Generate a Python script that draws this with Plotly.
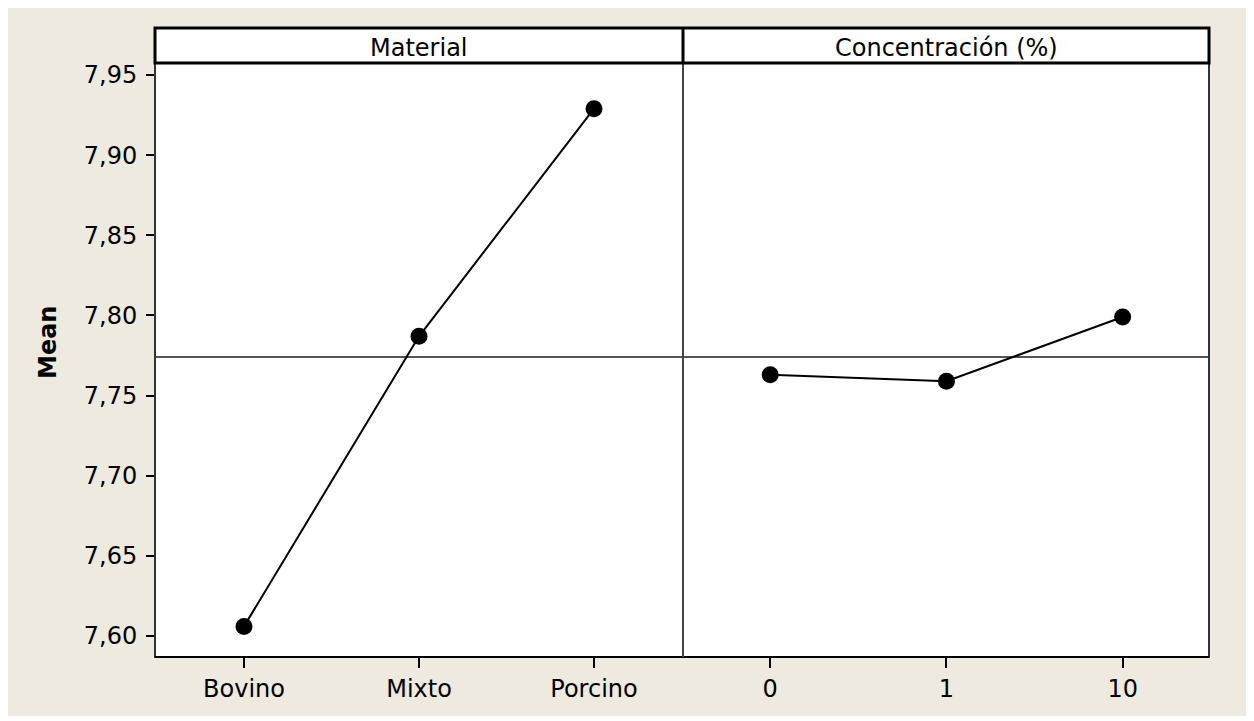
import plotly.graph_objects as go

material_levels = ["Bovino", "Mixto", "Porcino"]
material_means = [7.606, 7.787, 7.929]
conc_levels = ["0", "1", "10"]
conc_means = [7.763, 7.759, 7.799]
grand_mean = 7.774
panel_titles = ["Material", "Concentración (%)"]
y_ticks = [7.60, 7.65, 7.70, 7.75, 7.80, 7.85, 7.90, 7.95]

# page body has an 8px default margin; compensate
OFF = 8
W, H = 1254 - OFF, 721 - OFF
L, R, T, B = 155 - OFF, 45, 28 - OFF, 64
pw, ph = W - L - R, H - T - B
split = 528 / pw
ytop = (657 - 63) / ph

BG = "#EEEAE0"
FONT = "DejaVu Sans, Verdana, sans-serif"
FS = 24

fig = go.Figure()
fig.add_trace(go.Scatter(x=material_levels, y=material_means, mode="lines+markers",
                         line=dict(color="black", width=2),
                         marker=dict(color="black", size=17),
                         xaxis="x", yaxis="y", showlegend=False))
fig.add_trace(go.Scatter(x=conc_levels, y=conc_means, mode="lines+markers",
                         line=dict(color="black", width=2),
                         marker=dict(color="black", size=17),
                         xaxis="x2", yaxis="y2", showlegend=False))

axis_common = dict(showgrid=False, zeroline=False, showline=False,
                   ticks="outside", ticklen=10, tickwidth=2, tickcolor="black",
                   tickfont=dict(family=FONT, size=FS, color="black"))

fig.update_layout(
    width=W, height=H,
    margin=dict(l=L, r=R, t=T, b=B),
    paper_bgcolor=BG, plot_bgcolor="white",
    separators=",.",
    xaxis=dict(domain=[0, split], type="category", range=[-0.5086, 2.5086],
               anchor="y", ticklabelstandoff=0, **axis_common),
    xaxis2=dict(domain=[split, 1], type="category", range=[-0.495, 2.49],
                anchor="y2", ticklabelstandoff=0, **axis_common),
    yaxis=dict(domain=[0, ytop], range=[7.5869, 7.9575], tickvals=y_ticks,
               tickformat=".2f", anchor="x", ticklabelstandoff=4,
               **{**axis_common, "ticklen": 8}),
    yaxis2=dict(domain=[0, ytop], matches="y", anchor="x2", showticklabels=False,
                ticks="", showgrid=False, zeroline=False),
    showlegend=False,
)

shapes = []
shapes.append(dict(type="line", xref="paper", yref="y", x0=0, x1=1,
                   y0=grand_mean, y1=grand_mean,
                   line=dict(color="#555555", width=2), layer="below"))
shapes.append(dict(type="rect", xref="paper", yref="paper", x0=0, x1=1, y0=0, y1=ytop,
                   line=dict(color="#333333", width=2)))
shapes.append(dict(type="line", xref="paper", yref="paper", x0=0, x1=1, y0=0, y1=0,
                   line=dict(color="black", width=2)))
shapes.append(dict(type="line", xref="paper", yref="paper", x0=split, x1=split, y0=0, y1=ytop,
                   line=dict(color="#444444", width=2)))
shapes.append(dict(type="rect", xref="paper", yref="paper", x0=0, x1=1, y0=ytop, y1=1,
                   fillcolor="white", line=dict(color="black", width=3)))
shapes.append(dict(type="line", xref="paper", yref="paper", x0=split, x1=split, y0=ytop, y1=1,
                   line=dict(color="black", width=3)))
shapes.append(dict(type="line", xref="paper", yref="paper", x0=0, x1=1, y0=ytop, y1=ytop,
                   line=dict(color="black", width=2)))
# white strip at the bottom edge
shapes.append(dict(type="rect", xref="paper", yref="paper",
                   x0=-L / pw, x1=(W - L) / pw, y0=-B / ph, y1=(-B + 5) / ph,
                   fillcolor="white", line=dict(width=0)))
fig.update_layout(shapes=shapes)

ann = []
hy = (ytop + 1) / 2 - 2 / ph
ann.append(dict(xref="paper", yref="paper", x=split / 2, y=hy, text=panel_titles[0],
                showarrow=False, font=dict(family=FONT, size=FS, color="black"),
                xanchor="center", yanchor="middle"))
ann.append(dict(xref="paper", yref="paper", x=(split + 1) / 2, y=hy, text=panel_titles[1],
                showarrow=False, font=dict(family=FONT, size=FS, color="black"),
                xanchor="center", yanchor="middle"))
ann.append(dict(xref="paper", yref="paper", x=(48 - 155) / pw, y=(657 - 343) / ph,
                text="<b>Mean</b>", textangle=-90, showarrow=False,
                font=dict(family=FONT, size=FS, color="black"),
                xanchor="center", yanchor="middle"))
fig.update_layout(annotations=ann)

fig.write_html("out.html")
